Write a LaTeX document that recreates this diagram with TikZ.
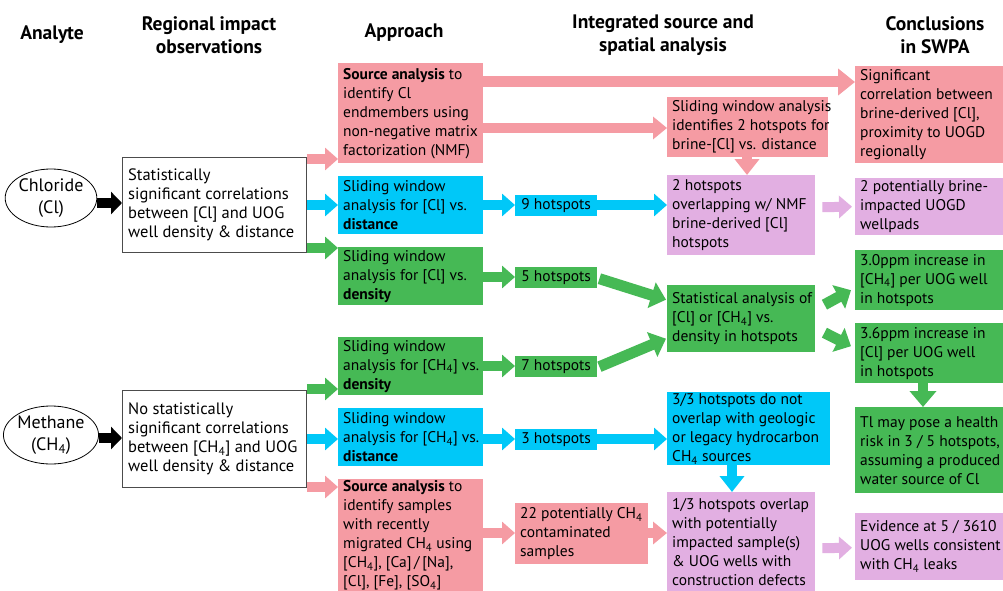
\documentclass[tikz,border=0pt]{standalone}
\usepackage{fontspec}
\setmainfont{PT Sans}
\usetikzlibrary{arrows.meta,shapes.geometric,calc}
\definecolor{pkc}{HTML}{F59BA3}
\definecolor{blc}{HTML}{00C8F8}
\definecolor{grc}{HTML}{46B955}
\definecolor{puc}{HTML}{E2AFE2}
\newcommand\sbq[1]{\textsubscript{#1}}
% box: name, colour, x, y, W, H, text
\newcommand\mybox[7]{\node[bx, fill=#2, minimum width=#5pt, minimum height=#6pt] (#1) at (#3,#4) {};
  \node[btxt] (#1-t) at ($(#1.west)+(5,0)$) {#7};}
\newcommand\harr[4]{\coordinate (hy) at (0,#4); \draw[arr,#1] (#2.east |- hy) -- (#3.west |- hy);}
\newcommand\varr[4]{\coordinate (vx) at (#4,0); \draw[arr,#1] (#2.south -| vx) -- (#3.north -| vx);}
\begin{document}
\begin{tikzpicture}[x=1pt,y=-1pt,
  every node/.style={font=\fontsize{15.5}{19}\selectfont},
  hdr/.style={font=\fontsize{19.5}{23}\selectfont\bfseries, align=center},
  bx/.style={anchor=north west, inner sep=0pt},
  btxt/.style={anchor=west, inner sep=0pt, align=left},
  hs/.style={anchor=north west, inner sep=0pt, align=center},
  arr/.style={line width=10pt, -{Triangle[length=13pt,width=22pt]}},
  ell/.style={ellipse, draw=black, line width=0.8pt, fill=white, minimum width=86pt, minimum height=58pt, inner sep=0pt, align=center, font=\fontsize{18}{22}\selectfont},
  obs/.style={anchor=north west, draw=black!70, line width=0.8pt, fill=white, inner sep=0pt},
  otxt/.style={anchor=west, inner sep=0pt, align=left, font=\fontsize{16.5}{19}\selectfont},
]
\useasboundingbox (0,0) rectangle (1003,591);
\fill[white] (0,0) rectangle (1003,591);

% headers
\node[hdr] (hA) at (52,35) {Analyte};
\node[hdr] (hR) at (209,35) {Regional impact\\observations};
\node[hdr] (hP) at (404,33) {Approach};
\node[hdr] (hI) at (663,35) {Integrated source and\\spatial analysis};
\node[hdr] (hC) at (935,35) {Conclusions\\in SWPA};

% analytes
\node[ell] (Cl) at (51,198) {Chloride\\(Cl)};
\node[ell] (Me) at (51,435) {Methane\\(CH\sbq{4})};
\node[obs, minimum width=184pt, minimum height=95pt] (ClBox) at (122,157) {};
\node[otxt] (ClBox-t) at ($(ClBox.west)+(6,0)$)
  {Statistically\\significant correlations\\between [Cl] and UOG\\well density \& distance};
\node[obs, minimum width=184pt, minimum height=97pt] (MeBox) at (122,390) {};
\node[otxt] (MeBox-t) at ($(MeBox.west)+(6,0)$)
  {No statistically\\significant correlations\\between [CH\sbq{4}] and UOG\\well density \& distance};

% approach column
\mybox{src1}{pkc}{338}{63}{145}{100}{\textbf{Source analysis} to\\identify Cl\\endmembers using\\non-negative matrix\\factorization (NMF)}
\mybox{sClD}{blc}{338}{176}{145}{58}{Sliding window\\analysis for [Cl] vs.\\\textbf{distance}}
\mybox{sClN}{grc}{338}{247}{145}{58}{Sliding window\\analysis for [Cl] vs.\\\textbf{density}}
\mybox{sMeN}{grc}{338}{337}{145}{58}{Sliding window\\analysis for [CH\sbq{4}] vs.\\\textbf{density}}
\mybox{sMeD}{blc}{338}{408}{145}{58}{Sliding window\\analysis for [CH\sbq{4}] vs.\\\textbf{distance}}
\mybox{src2}{pkc}{338}{479}{145}{112}{\fontsize{15.5}{18.6}\selectfont\textbf{Source analysis} to\\identify samples\\with recently\\migrated CH\sbq{4} using\\{}[CH\sbq{4}], [Ca]\,/\,[Na],\\{}[Cl], [Fe], [SO\sbq{4}]}

% hotspots
\node[hs, fill=blc, minimum width=82pt, minimum height=21pt] (h9) at (515,195) {9 hotspots};
\node[hs, fill=grc, minimum width=82pt, minimum height=21pt] (h5) at (515,267) {5 hotspots};
\node[hs, fill=grc, minimum width=82pt, minimum height=21pt] (h7) at (515,356) {7 hotspots};
\node[hs, fill=blc, minimum width=82pt, minimum height=21pt] (h3) at (515,429) {3 hotspots};
\mybox{h22}{pkc}{515}{503}{133}{61}{22 potentially CH\sbq{4}\\contaminated\\samples}

% integrated column
\mybox{slide}{pkc}{667}{97}{161}{60}{Sliding window analysis\\identifies 2 hotspots for\\brine-[Cl] vs. distance}
\mybox{ov}{puc}{667}{175}{148}{80}{2 hotspots\\overlapping w/ NMF\\brine-derived [Cl]\\hotspots}
\mybox{stat}{grc}{667}{285}{148}{67}{Statistical analysis of\\{}[Cl] or [CH\sbq{4}] vs.\\density in hotspots}
\mybox{b33}{blc}{667}{392}{163}{73}{3/3 hotspots do not\\overlap with geologic\\or legacy hydrocarbon\\CH\sbq{4} sources}
\mybox{p13}{puc}{667}{492}{148}{100}{1/3 hotspots overlap\\with potentially\\impacted sample(s)\\\& UOG wells with\\construction defects}

% conclusions
\mybox{sig}{pkc}{855}{66}{148}{97}{Significant\\correlation between\\brine-derived [Cl],\\proximity to UOGD\\regionally}
\mybox{pot}{puc}{855}{178}{148}{57}{2 potentially brine-\\impacted UOGD\\wellpads}
\mybox{c30}{grc}{855}{250}{148}{60}{3.0ppm increase in\\{}[CH\sbq{4}] per UOG well\\in hotspots}
\mybox{c36}{grc}{855}{323}{148}{60}{3.6ppm increase in\\{}[Cl] per UOG well\\in hotspots}
\mybox{tl}{grc}{855}{407}{148}{86}{Tl may pose a health\\risk in 3 / 5 hotspots,\\assuming a produced\\water source of Cl}
\mybox{ev}{puc}{855}{513}{148}{67}{Evidence at 5 / 3610\\UOG wells consistent\\with CH\sbq{4} leaks}

% arrows: analytes
\harr{black, -{Triangle[length=11pt,width=22pt]}}{Cl}{ClBox}{203}
\harr{black, -{Triangle[length=11pt,width=22pt]}}{Me}{MeBox}{438}
\harr{pkc}{ClBox}{src1}{159}
\harr{blc}{ClBox}{sClD}{205}
\harr{grc}{ClBox}{sClN}{248}
\harr{grc}{MeBox}{sMeN}{389}
\harr{blc}{MeBox}{sMeD}{439}
\harr{pkc}{MeBox}{src2}{487}

% approach -> integrated
\harr{pkc, line width=11pt, -{Triangle[length=17pt,width=26pt]}}{src1}{sig}{82}
\harr{pkc, -{Triangle[length=14pt,width=22pt]}}{src1}{slide}{128}
\varr{pkc, -{Triangle[length=16pt,width=24pt]}}{slide}{ov}{747}
\harr{blc}{sClD}{h9}{205}
\harr{blc}{h9}{ov}{205}
\harr{grc}{sClN}{h5}{277}
\draw[arr,grc, line width=11pt, -{Triangle[length=15pt,width=26pt]}] ($(h5.east)+(2,1)$) -- ($(stat.west)+(-1,-19)$);
\harr{grc}{sMeN}{h7}{366}
\draw[arr,grc, line width=11pt, -{Triangle[length=15pt,width=26pt]}] ($(h7.east)+(2,0)$) -- ($(stat.west)+(-1,20)$);
\harr{blc}{sMeD}{h3}{439}
\harr{blc}{h3}{b33}{439}
\varr{blc, -{Triangle[length=16pt,width=24pt]}}{b33}{p13}{732}
\harr{pkc}{src2}{h22}{533}
\harr{pkc, -{Triangle[length=14pt,width=22pt]}}{h22}{p13}{533}

% integrated -> conclusions
\draw[arr,puc] ($(ov.east)+(7,-8)$) -- ($(pot.west)+(-3,0)$);
\draw[arr,puc] ($(p13.east)+(7,6)$) -- ($(ev.west)+(-3,1)$);
\draw[arr,grc, line width=11pt, -{Triangle[length=14pt,width=26pt]}] ($(stat.east)+(9,-14)$) -- ($(c30.west)+(-4,10)$);
\draw[arr,grc, line width=11pt, -{Triangle[length=14pt,width=26pt]}] ($(stat.east)+(9,14)$) -- ($(c36.west)+(-4,-7)$);
\varr{grc, -{Triangle[length=16pt,width=26pt]}}{c36}{tl}{923}
\end{tikzpicture}
\end{document}
